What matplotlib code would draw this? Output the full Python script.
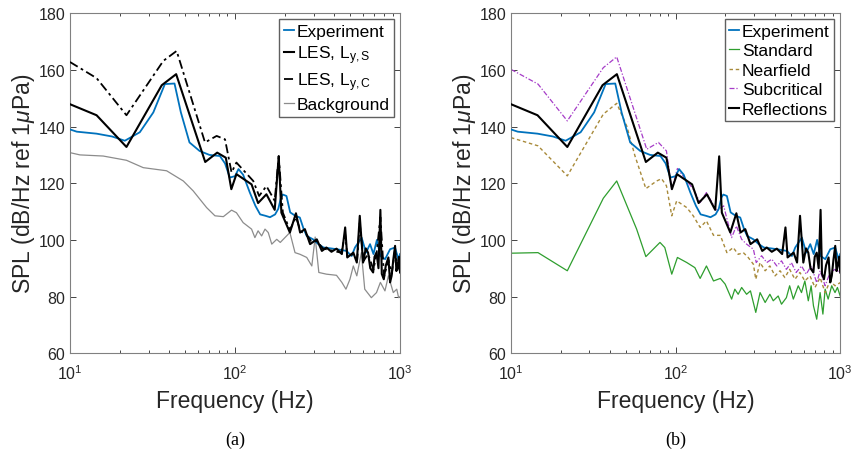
import matplotlib
matplotlib.use('Agg')
import matplotlib.pyplot as plt
import numpy as np

plt.rcParams['font.family'] = ['Liberation Sans', 'DejaVu Sans']
plt.rcParams['mathtext.fontset'] = 'custom'
plt.rcParams['mathtext.rm'] = 'Liberation Sans'
plt.rcParams['mathtext.it'] = 'Liberation Sans:italic'

# measured spectrum (same in both panels)
exp_f = [10, 11, 14.5, 18, 21.5, 26.5, 32, 37.6, 43, 47, 53, 61, 70, 81, 87, 93, 100, 105,
         112, 123, 133, 142, 153, 163, 175, 183, 190, 195, 205, 216, 232, 247, 260, 272,
         297, 320, 344, 380, 414, 474, 509, 533, 585, 622, 658, 690, 724, 760, 812, 870,
         932, 977, 1000]
exp_spl = [139, 138.2, 137.5, 136.5, 135, 138, 145, 155, 155.2, 145, 134.4, 131.4, 130,
           129.6, 127, 122, 122.5, 125, 123, 116.7, 112, 109, 108.5, 108, 109, 111, 115,
           116, 115.5, 109.7, 108.5, 107.9, 104, 101.4, 100.2, 98.5, 97.3, 97, 96.7, 96.1,
           94.3, 97.3, 100.8, 95.5, 98.5, 95, 100, 94.3, 93.2, 96.7, 97.3, 93.2, 95]

# LES, L_y,S  (also "Reflections" in panel b)
les_s_f = [10, 14.5, 22, 36, 44, 66, 78, 88, 95, 102, 126, 138, 155, 174, 184, 191, 215,
           234, 248, 265, 285, 313, 336, 358, 384, 412, 444, 465, 479, 521, 547, 570, 597,
           620, 640, 660, 687, 700, 720, 740, 760, 775, 797, 820, 850, 870, 889, 910, 933,
           950, 965, 985, 1000]
les_s_spl = [147.9, 144, 132.8, 154.6, 158.5, 127.5, 130.8, 129, 117.9, 123.2, 119.6, 113,
             116.1, 110.6, 129.5, 109.6, 102.6, 109.4, 102.6, 103.8, 98.5, 100.2, 96.1, 97.3,
             95.8, 96.9, 95, 104.4, 93.8, 95.5, 92, 108.5, 92, 97, 95.5, 90, 88.5, 94, 95.5,
             90, 110.6, 88, 86.1, 91, 93.8, 85, 87.3, 93, 97.9, 89, 90.8, 94, 88.5]

# LES, L_y,C
les_c_f = [10, 14.5, 22, 36.8, 44.3, 65.8, 77.4, 87, 95.3, 102, 129, 140, 155, 174, 184,
           195, 215, 234, 250, 270, 290, 315, 340, 370, 400, 440, 465, 480, 520, 550, 570,
           600, 640, 690, 720, 760, 800, 850, 890, 930, 965, 1000]
les_c_spl = [162.8, 157.1, 144, 163.2, 166.7, 134.4, 136.7, 135.5, 123.8, 127.3, 120.8,
             115.5, 119, 113.8, 129.6, 109.6, 103.5, 108, 103, 102, 99.5, 99.5, 97, 96.5, 96,
             95.5, 102, 94, 95, 93, 106, 92.5, 95, 89.5, 95, 108, 87, 93, 88, 96, 91, 89]

# background noise
bg_f = [10, 11.5, 15.9, 22, 27.8, 38.5, 48.6, 55.8, 67.3, 75.6, 85, 95.3, 102, 112, 126,
        132, 138, 145, 152, 159, 167, 179, 188, 215, 231, 248, 272, 292, 306, 322, 358,
        412, 444, 470, 497, 521, 547, 583, 611, 670, 720, 760, 810, 850, 910, 955, 980, 1000]
bg_spl = [130.8, 130, 129.6, 128.1, 125.5, 124.4, 120.8, 117.3, 111.4, 108.5, 108.2, 110.5,
          109.6, 106.1, 103.8, 100.8, 103.2, 101.4, 103.8, 102.6, 98.5, 100.2, 99.1, 102.6,
          95.5, 94.9, 93.8, 90.8, 101, 88.5, 87.9, 87.5, 85, 82.6, 86.1, 90.8, 87.3, 95.5,
          82.6, 79.6, 81.4, 85, 82, 87.3, 81.4, 82.6, 79.6, 80]

# panel b models
std_f = [10, 14.6, 22, 36.4, 43.9, 58, 66, 80.4, 86, 94.8, 102.6, 117, 131, 141, 154, 170,
         187, 200, 219, 229, 240, 252, 270, 285, 307, 326, 350, 374, 392, 420, 440, 471, 493,
         519, 556, 582, 610, 640, 666, 688, 720, 755, 785, 810, 845, 888, 930, 962, 1000]
std_spl = [95.3, 95.5, 89.1, 114.7, 120.8, 103.8, 94.1, 99.1, 97.3, 87.9, 93.8, 92, 90.2,
           86.4, 90.8, 85.5, 86.4, 84.4, 79.1, 82.6, 80.8, 83.2, 80.8, 82, 74.4, 81.4, 77.9,
           80.8, 78.5, 80.2, 77.3, 79.6, 83.8, 79.1, 83.8, 81.4, 85.5, 78.5, 83.8, 76.7, 72,
           81.4, 73.8, 82.6, 79.1, 83.8, 81.4, 83.2, 80.2]

near_f = [10, 14.6, 22, 36.4, 43.9, 50.5, 56.7, 66, 76.8, 82.2, 88, 94.8, 101.6, 108.9, 117,
          128, 141, 154, 170, 187, 205, 224, 240, 258, 276, 297, 307, 326, 350, 374, 402,
          431, 461, 493, 531, 569, 610, 655, 703, 755, 810, 868, 930, 1000]
near_spl = [136.1, 133.2, 122.6, 144.4, 148.2, 140.2, 129.6, 118.1, 120.8, 121.6, 119.1,
            108.5, 113.8, 112.6, 111.4, 108.5, 104.4, 106.7, 101.6, 101.6, 95.5, 97.3, 94.9,
            95.5, 93.8, 91.4, 86.1, 92, 89.1, 90.8, 87.3, 89.1, 86.7, 89.6, 86.1, 88.5, 85.5,
            87.3, 83.2, 86.7, 81.4, 85.5, 83.8, 84.9]

sub_f = [10, 14.6, 22, 36.4, 43.9, 66.8, 78.7, 88, 94.8, 102.6, 128, 141, 154, 178, 196,
         219, 234, 252, 270, 297, 309, 333, 358, 384, 412, 440, 471, 505, 540, 582, 622, 666,
         720, 755, 810, 868, 930, 1000]
sub_spl = [160.2, 155, 142, 160.8, 164.6, 132, 134.4, 131.4, 117.9, 125.2, 117.9, 113.2,
           116.7, 110.2, 112, 100.8, 104.9, 100.2, 98.5, 96.7, 92, 94.4, 92, 93.2, 90.8, 92.6,
           89.6, 92, 88.5, 90.8, 87.9, 90.8, 84.9, 89.1, 83.8, 88.5, 89.6, 88.5]

blue = '#0072BD'
leg_kw = dict(loc='upper right', fontsize=12.5, handlelength=0.6, handletextpad=0.15,
              borderaxespad=0.35, labelspacing=0.25, borderpad=0.25, fancybox=False,
              edgecolor='#606060', framealpha=1)

fig = plt.figure(figsize=(8.53, 4.6), dpi=100)
axa = fig.add_axes([0.082, 0.230, 0.387, 0.739])
axb = fig.add_axes([0.599, 0.230, 0.386, 0.739])

axa.plot(bg_f, bg_spl, color='#8C8C8C', lw=0.9, label='Background', zorder=2)
axa.plot(exp_f, exp_spl, color=blue, lw=1.3, label='Experiment', zorder=3)
axa.plot(les_c_f, les_c_spl, color='black', lw=1.3, dashes=(5, 2, 1.5, 2),
         label='LES, L$_\\mathregular{y,C}$', zorder=4)
axa.plot(les_s_f, les_s_spl, color='black', lw=1.5, label='LES, L$_\\mathregular{y,S}$', zorder=5)
ha, la = axa.get_legend_handles_labels()
order = [1, 3, 2, 0]
axa.legend([ha[i] for i in order], [la[i] for i in order], **leg_kw)

axb.plot(exp_f, exp_spl, color=blue, lw=1.3, label='Experiment', zorder=3)
axb.plot(std_f, std_spl, color='#2E9E2E', lw=0.9, label='Standard', zorder=2)
axb.plot(near_f, near_spl, color='#A88A3A', lw=1.0, dashes=(2.5, 2), label='Nearfield', zorder=2)
axb.plot(sub_f, sub_spl, color='#A63CC8', lw=0.9, dashes=(4, 1.5, 1, 1.5),
         label='Subcritical', zorder=2)
axb.plot(les_s_f, les_s_spl, color='black', lw=1.5, label='Reflections', zorder=5)
axb.legend(**leg_kw)

for ax, cap in [(axa, '(a)'), (axb, '(b)')]:
    ax.set_xscale('log')
    ax.set_xlim(10, 1000)
    ax.set_ylim(60, 180)
    ax.set_yticks(np.arange(60, 181, 20))
    ax.tick_params(which='both', direction='in', top=True, right=True,
                   labelsize=11.5, colors='#262626', width=0.6)
    ax.tick_params(axis='x', which='major', pad=7)
    ax.tick_params(which='major', length=4)
    ax.tick_params(which='minor', length=2.5)
    for sp in ax.spines.values():
        sp.set_color('#808080')
        sp.set_linewidth(0.8)
    ax.set_xlabel('Frequency (Hz)', fontsize=16.5, color='#262626', labelpad=5)
    ax.set_ylabel('SPL (dB/Hz ref 1$\\mathit{\\mu}$Pa)', fontsize=16.5, color='#262626', labelpad=1)
    pos = ax.get_position()
    fig.text((pos.x0 + pos.x1) / 2, 0.043, cap, ha='center', va='center',
             fontsize=13, family='Liberation Serif')

fig.savefig('out.png', dpi=100)
